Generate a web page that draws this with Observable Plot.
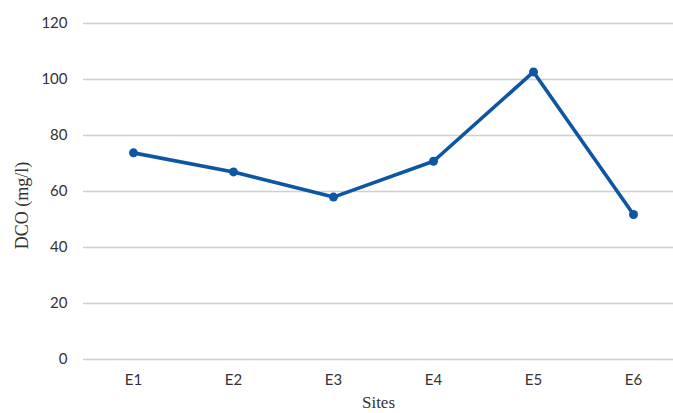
<!DOCTYPE html>
<html>
<head>
<meta charset="utf-8">
<script src="https://cdn.jsdelivr.net/npm/d3@7"></script>
<script src="https://cdn.jsdelivr.net/npm/@observablehq/plot@0.6"></script>
<style>
  html, body { margin: 0; padding: 0; background: #fff; }
  #chart svg { display: block; }
</style>
</head>
<body>
<div id="chart"></div>
<script>
const sites = ["E1", "E2", "E3", "E4", "E5", "E6"];
const dco = [73.8, 67.0, 58.0, 70.8, 102.7, 51.8];
const yTicks = [0, 20, 40, 60, 80, 100, 120];
const xTitle = "Sites";
const yTitle = "DCO (mg/l)";

const data = sites.map((s, i) => ({site: s, value: dco[i]}));
const lineColor = "#0d56a3";

const chart = Plot.plot({
  width: 673,
  height: 413,
  marginLeft: 83,
  marginRight: 0,
  marginTop: 23,
  marginBottom: 54,
  style: {background: "#fff", overflow: "visible"},
  x: {type: "point", domain: sites, range: [83.3, 683.3], padding: 0.5, label: null},
  y: {domain: [0, 120], label: null},
  marks: [
    Plot.ruleY(yTicks, {stroke: "#cfcfcf", strokeWidth: 1.4}),
    Plot.axisY({ticks: yTicks, tickSize: 0, tickPadding: 16, label: null,
      fontSize: 15, fontFamily: "Lato", fill: "#333"}),
    Plot.axisX({tickSize: 0, tickPadding: 15, label: null,
      fontSize: 15, fontFamily: "Lato", fill: "#333"}),
    Plot.line(data, {x: "site", y: "value", stroke: lineColor, strokeWidth: 3.6}),
    Plot.dot(data, {x: "site", y: "value", fill: lineColor, r: 4.5}),
    Plot.text([xTitle], {frameAnchor: "bottom", lineAnchor: "middle", textAnchor: "middle",
      dy: 43, fontSize: 17, fontFamily: "Liberation Serif", fill: "#333"}),
    Plot.text([yTitle], {frameAnchor: "left", textAnchor: "middle", lineAnchor: "middle",
      rotate: -90, dx: -61, dy: 14, fontSize: 18,
      fontFamily: "Liberation Serif", fill: "#333"})
  ]
});
document.getElementById("chart").appendChild(chart);
</script>
</body>
</html>
